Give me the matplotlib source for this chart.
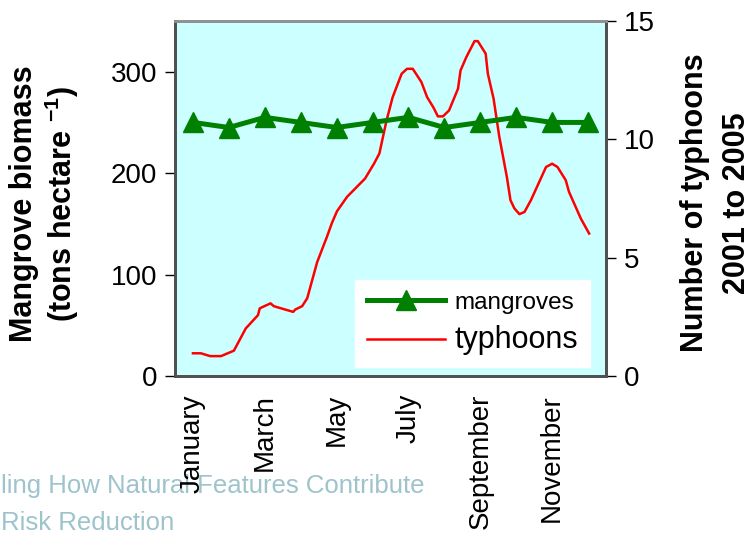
import matplotlib
matplotlib.use("Agg")
import matplotlib.pyplot as plt

plt.rcParams['font.family'] = ['Liberation Sans', 'DejaVu Sans']
plt.rcParams['mathtext.default'] = 'regular'

# Data
months = list(range(1, 13))
month_labels = ['January', '', 'March', '', 'May', '', 'July', '', 'September', '', 'November', '']
mangroves = [250, 245, 255, 250, 245, 250, 255, 245, 250, 255, 250, 250]

typhoon_x = [1.00, 1.22, 1.48, 1.78, 2.14, 2.47, 2.81, 2.86, 3.16, 3.25, 3.79, 3.85, 4.04, 4.18,
             4.46, 4.73, 4.87, 5.01, 5.29, 5.79, 6.04, 6.19, 6.39, 6.56, 6.81, 6.96, 7.12, 7.36,
             7.52, 7.69, 7.82, 7.96, 8.13, 8.38, 8.45, 8.61, 8.84, 8.93, 9.15, 9.21, 9.37, 9.53,
             9.74, 9.84, 9.95, 10.09, 10.23, 10.41, 10.83, 11.00, 11.15, 11.38, 11.47, 11.80, 12.03]
typhoons = [0.96, 0.96, 0.84, 0.84, 1.07, 2.01, 2.57, 2.86, 3.07, 2.95, 2.71, 2.81, 2.95, 3.28,
            4.82, 5.88, 6.47, 6.96, 7.57, 8.34, 8.97, 9.40, 10.80, 11.78, 12.77, 12.98, 12.98, 12.42,
            11.78, 11.36, 10.97, 10.97, 11.22, 12.14, 12.91, 13.47, 14.15, 14.15, 13.62, 12.77, 11.72, 10.10,
            8.41, 7.43, 7.08, 6.84, 6.93, 7.43, 8.83, 8.97, 8.83, 8.27, 7.78, 6.65, 6.02]

W, H = 753, 542
fig = plt.figure(figsize=(W / 100, H / 100), dpi=100)
fig.patch.set_facecolor('white')

# watermark text behind chart
fig.text(1 / W, 1 - 493 / H, 'ling How Natural Features Contribute', ha='left', va='baseline',
         fontsize=18.5, color='#9ec3cc', zorder=0)
fig.text(1 / W, 1 - 530 / H, 'Risk Reduction', ha='left', va='baseline',
         fontsize=18.5, color='#9ec3cc', zorder=0)

left, right, top, bottom = 175, 606, 21, 376
ax = fig.add_axes([left / W, 1 - bottom / H, (right - left) / W, (bottom - top) / H])
ax2 = ax.twinx()

l1, = ax.plot(months, mangroves, color='#008000', lw=3.6, marker='^', ms=15,
              markeredgecolor='#008000', label='mangroves', zorder=3)
l2, = ax2.plot(typhoon_x, typhoons, color='#ff0000', lw=1.8, label='typhoons', zorder=2)

ax.set_xlim(0.5, 12.5)
ax.set_ylim(0, 350)
ax2.set_ylim(0, 15)
ax.set_yticks([0, 100, 200, 300])
ax2.set_yticks([0, 5, 10, 15])
ax.set_xticks(months)
ax.set_xticklabels(month_labels, rotation=90, fontsize=20)
ax.tick_params(axis='x', length=0, pad=13)
ax.tick_params(axis='y', labelsize=20, length=7, width=1, direction='out', pad=6)
ax2.tick_params(axis='y', labelsize=20, length=7, width=1, direction='out', pad=6)

for a in (ax, ax2):
    for s in a.spines.values():
        s.set_color('#505050')
        s.set_linewidth(2)
    a.spines['top'].set_color('#909090')

ax2.set_zorder(0)
ax.set_zorder(1)
ax.patch.set_visible(False)
ax2.patch.set_visible(True)
ax2.patch.set_facecolor('#ccffff')

fig.text(24 / W, 1 - 204 / H, 'Mangrove biomass', rotation=90, ha='center', va='center',
         fontsize=22, fontweight='bold')
fig.text(62 / W, 1 - 204 / H, r'(tons hectare $^{-1}$)', rotation=90, ha='center', va='center',
         fontsize=22, fontweight='bold')
fig.text(695 / W, 1 - 203 / H, 'Number of typhoons', rotation=90, ha='center', va='center',
         fontsize=22, fontweight='bold')
fig.text(737 / W, 1 - 203 / H, '2001 to 2005', rotation=90, ha='center', va='center',
         fontsize=22, fontweight='bold')

leg = ax.legend([l1, l2], ['mangroves', 'typhoons'], loc='lower right',
                bbox_to_anchor=((590 - left) / (right - left), (bottom - 367) / (bottom - top)),
                frameon=True, fancybox=False, framealpha=1, edgecolor='white',
                fontsize=17.5, handlelength=3.2, handletextpad=0.4, borderpad=0.5,
                labelspacing=0.45, borderaxespad=0)
leg.get_texts()[1].set_fontsize(22)

fig.savefig('out.png', dpi=100)
